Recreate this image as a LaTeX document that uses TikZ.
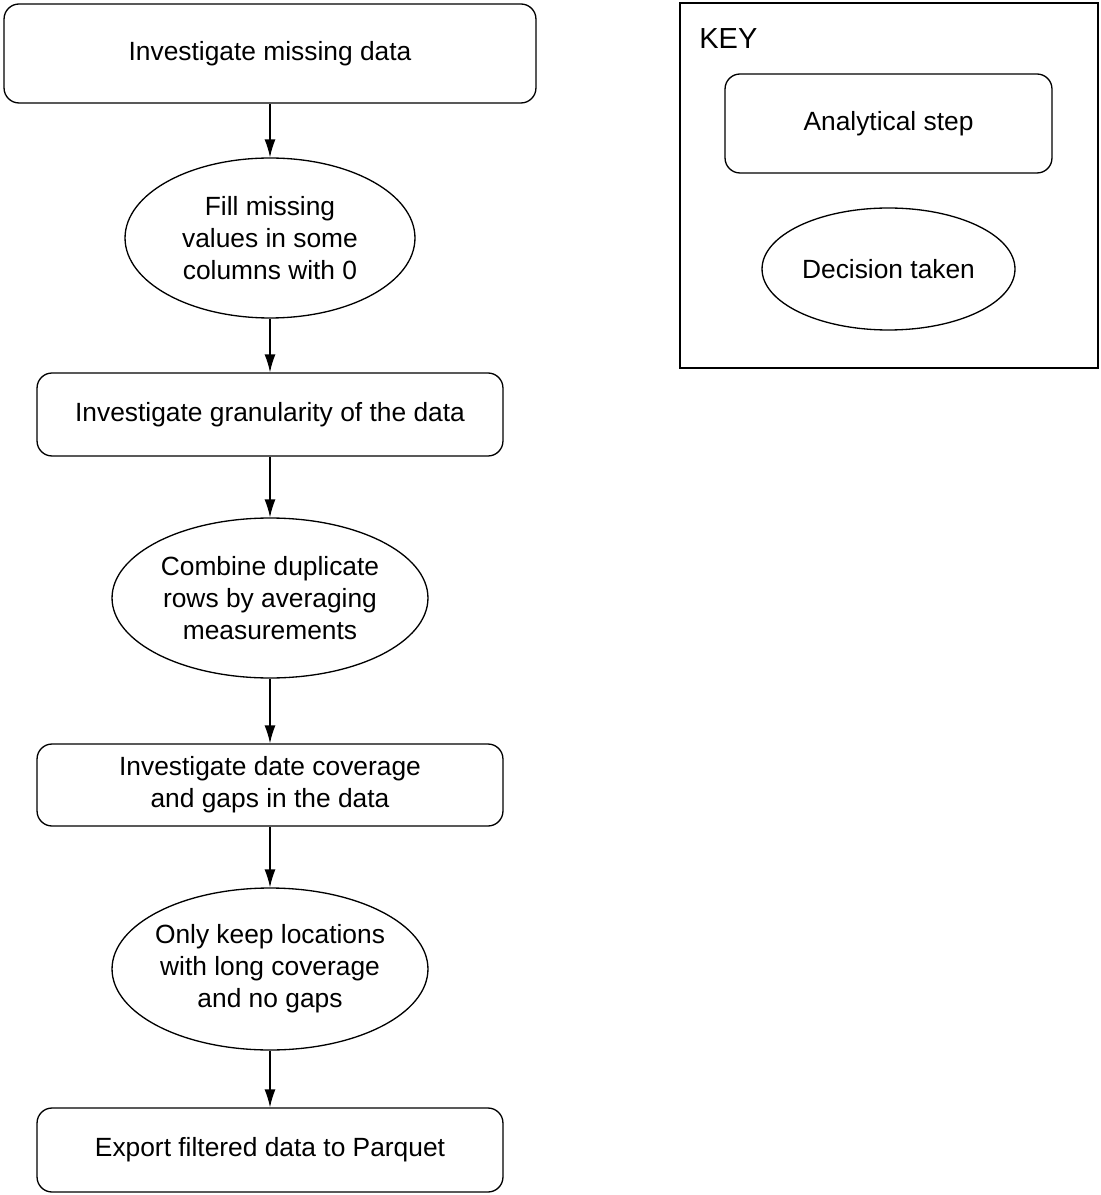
\documentclass[tikz,border=0pt]{standalone}
\usepackage{fontspec}
\setmainfont{Liberation Sans}
\usetikzlibrary{shapes.geometric,arrows.meta}

\begin{document}
\begin{tikzpicture}[
    x=0.02cm, y=-0.02cm,
    font=\fontsize{15}{18.2}\selectfont,
    stepbox/.style={draw=black, line width=0.75pt, rounded corners=0.3cm, align=center, inner sep=0pt},
    decision/.style={ellipse, draw=black, line width=0.75pt, align=center, inner sep=0pt},
    arrow/.style={-{Latex[length=0.36cm, width=0.22cm]}, line width=0.75pt}
]
\useasboundingbox (0,0) rectangle (1100,1195);

% Flow of steps and decisions
\node[stepbox, minimum width=10.64cm, minimum height=1.98cm] (missing) at (270,53.5) {Investigate missing data};
\node[decision, minimum width=5.8cm, minimum height=3.2cm] (fill) at (270,238) {Fill missing\\values in some\\columns with 0};
\node[stepbox, minimum width=9.32cm, minimum height=1.66cm] (granular) at (270,414.5) {Investigate granularity of the data};
\node[decision, minimum width=6.32cm, minimum height=3.2cm] (combine) at (270,598) {Combine duplicate\\rows by averaging\\measurements};
\node[stepbox, minimum width=9.32cm, minimum height=1.64cm] (coverage) at (270,785) {Investigate date coverage\\and gaps in the data};
\node[decision, inner xsep=-0.1cm, minimum width=6.32cm, minimum height=3.24cm] (keep) at (270,969) {Only keep locations\\with long coverage\\and no gaps};
\node[stepbox, minimum width=9.32cm, minimum height=1.68cm] (export) at (270,1150) {Export filtered data to Parquet};

\draw[arrow] (missing) -- (fill);
\draw[arrow] (fill) -- (granular);
\draw[arrow] (granular) -- (combine);
\draw[arrow] (combine) -- (coverage);
\draw[arrow] (coverage) -- (keep);
\draw[arrow] (keep) -- (export);

% Key
\node[draw=black, line width=0.75pt, minimum width=8.36cm, minimum height=7.3cm] (keyframe) at (889,185.5) {};
\node[anchor=west, inner sep=0pt, font=\fontsize{16.5}{20}\selectfont] (keytitle) at (699,39) {KEY};
\node[stepbox, minimum width=6.54cm, minimum height=1.98cm] (keystep) at (888.5,123.5) {Analytical step};
\node[decision, minimum width=5.06cm, minimum height=2.44cm] (keydecision) at (888.5,269) {Decision taken};

\end{tikzpicture}
\end{document}
